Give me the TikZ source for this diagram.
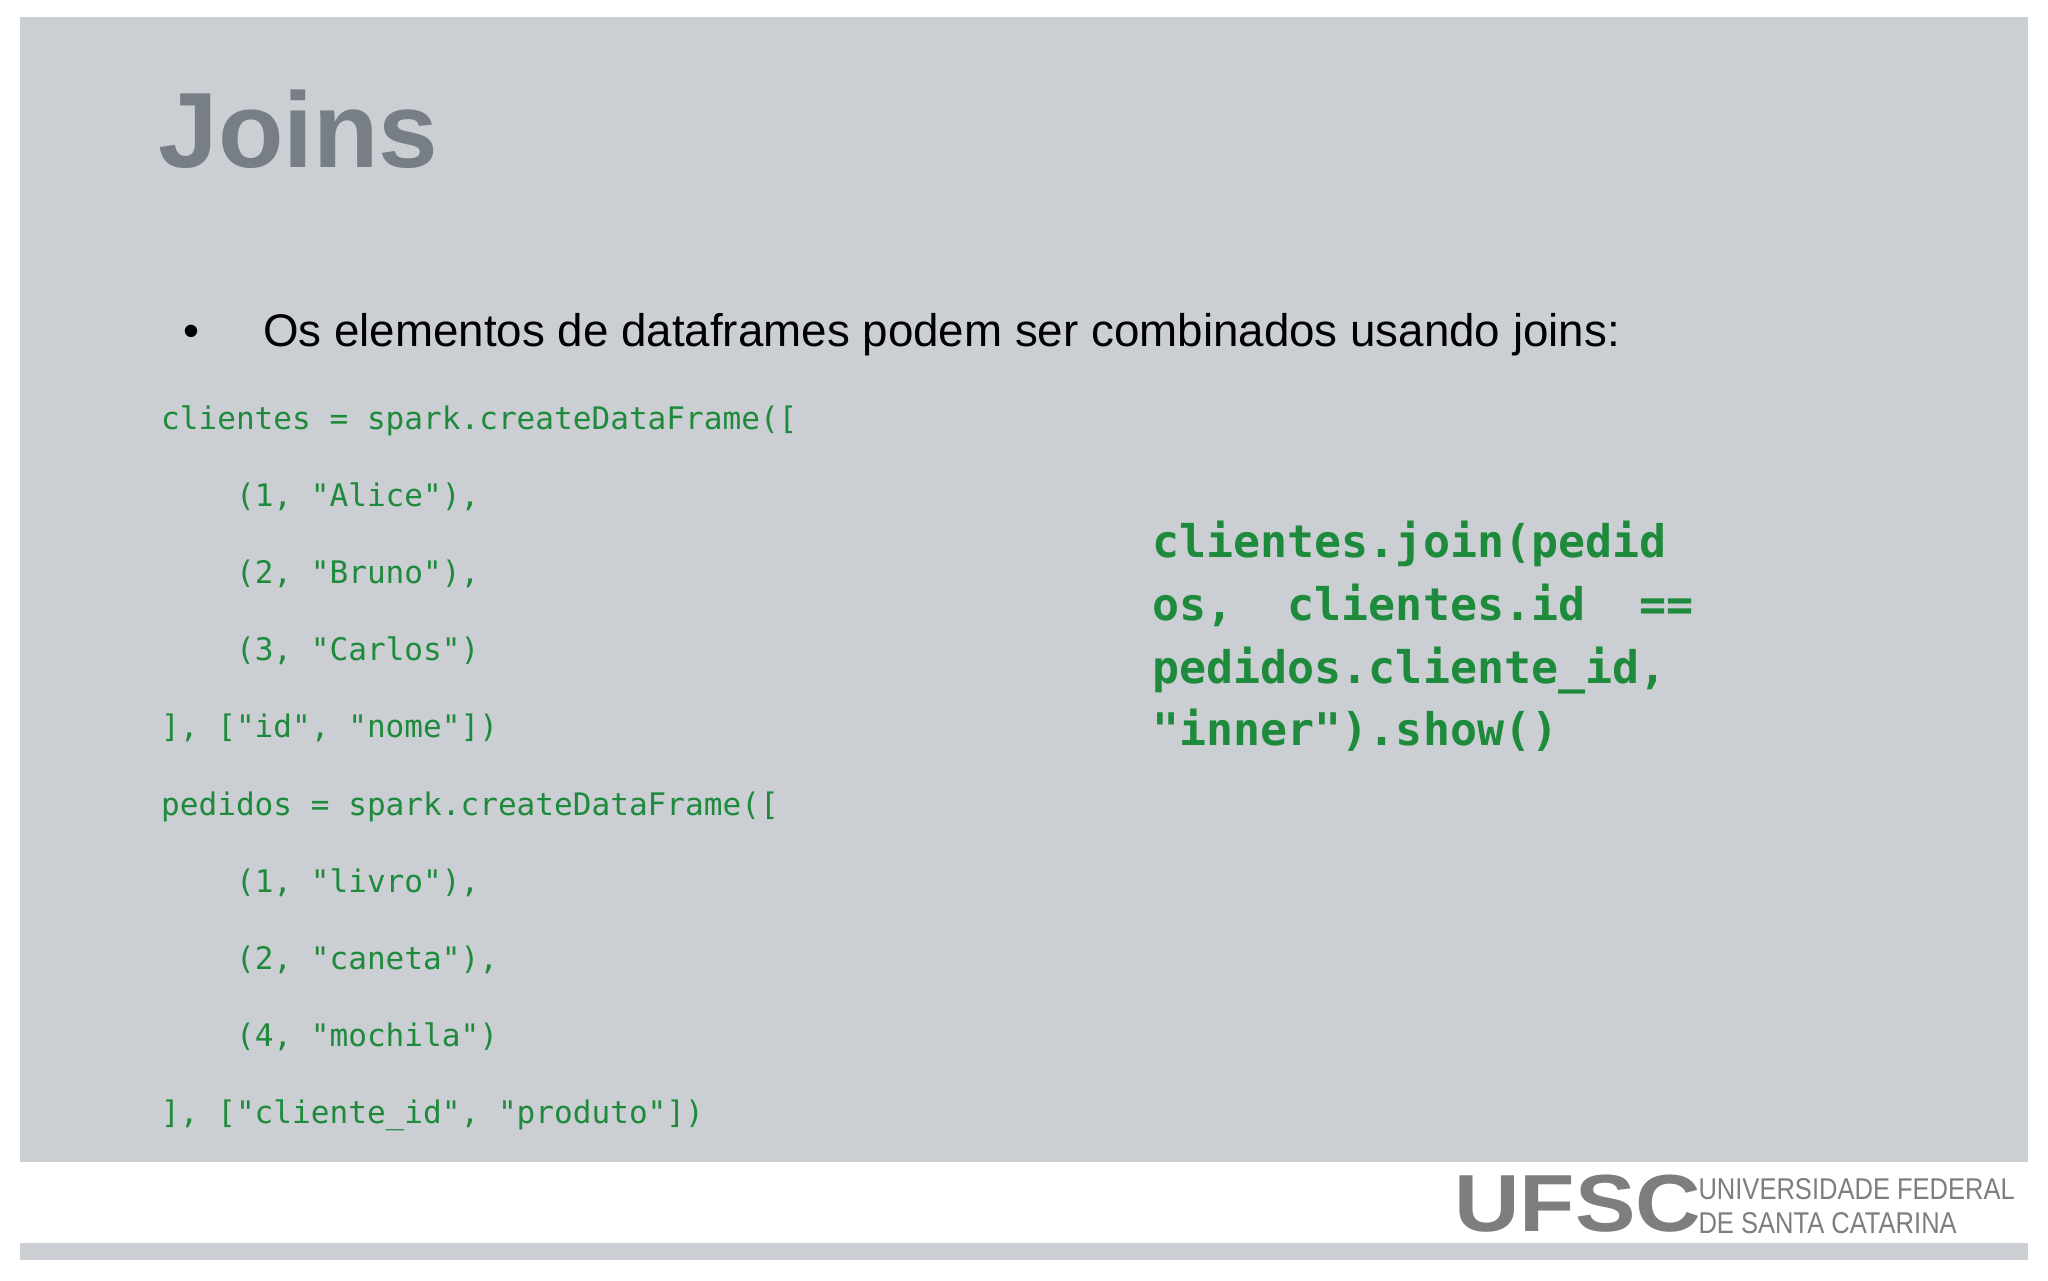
\documentclass[tikz,border=0pt]{standalone}
\usepackage{fontspec}
\setmainfont{Liberation Sans}
\newfontfamily\codefont{DejaVu Sans Mono}
\definecolor{panel}{HTML}{CBCED3}
\definecolor{titlegray}{HTML}{787E86}
\definecolor{codegreen}{HTML}{1E8A3C}
\definecolor{logogray}{HTML}{7E7E7E}
\begin{document}
\begin{tikzpicture}[x=0.5pt,y=-0.5pt,
  code/.style={anchor=base west,inner sep=0pt,text=codegreen,font=\codefont\fontsize{11.9}{14}\selectfont},
  bigcode/.style={anchor=base west,inner sep=0pt,text=codegreen,font=\codefont\bfseries\fontsize{17.2}{20}\selectfont}]
\useasboundingbox (0,0) rectangle (1568,980);
\fill[white] (0,0) rectangle (1568,980);
\fill[panel] (15,13) rectangle (1553,890);
\fill[panel] (15,952) rectangle (1553,965);
\node[anchor=base west,inner sep=0pt,text=titlegray,font=\bfseries\fontsize{41}{48}\selectfont] (title) at (121,128) {Joins};
\node[anchor=base west,inner sep=0pt,font=\fontsize{17.5}{20}\selectfont] (bul) at (140,265) {\textbullet};
\node[anchor=base west,inner sep=0pt,font=\fontsize{17.5}{20}\selectfont] (txt) at (201,265) {Os elementos de dataframes podem ser combinados usando joins:};
\foreach \t [count=\i from 0] in {%
 {clientes = spark.createDataFrame([},
 {\ \ \ \ (1, "Alice"),},
 {\ \ \ \ (2, "Bruno"),},
 {\ \ \ \ (3, "Carlos")},
 {], ["id", "nome"])},
 {pedidos = spark.createDataFrame([},
 {\ \ \ \ (1, "livro"),},
 {\ \ \ \ (2, "caneta"),},
 {\ \ \ \ (4, "mochila")},
 {], ["cliente\_id", "produto"])}}
 \node[code] (c\i) at (123,329+59*\i) {\t};
\node[bigcode] (j0) at (882,427) {clientes.join(pedid};
\node[bigcode] (j1) at (882,475) {os,\ \ clientes.id\ \ ==};
\node[bigcode] (j2) at (882,523) {pedidos.cliente\_id,};
\node[bigcode] (j3) at (882,571) {"inner").show()};
\node[anchor=base west,inner sep=0pt,text=logogray,font=\bfseries\fontsize{31}{34}\selectfont] (ufsc) at (1113,943) {\scalebox{1.12}[1]{UFSC}};
\node[anchor=base west,inner sep=0pt,text=logogray,font=\fontsize{11.5}{13}\selectfont] (l1) at (1300,918) {\scalebox{0.85}[1]{UNIVERSIDADE FEDERAL}};
\node[anchor=base west,inner sep=0pt,text=logogray,font=\fontsize{11.5}{13}\selectfont] (l2) at (1300,944) {\scalebox{0.85}[1]{DE SANTA CATARINA}};
\end{tikzpicture}
\end{document}
